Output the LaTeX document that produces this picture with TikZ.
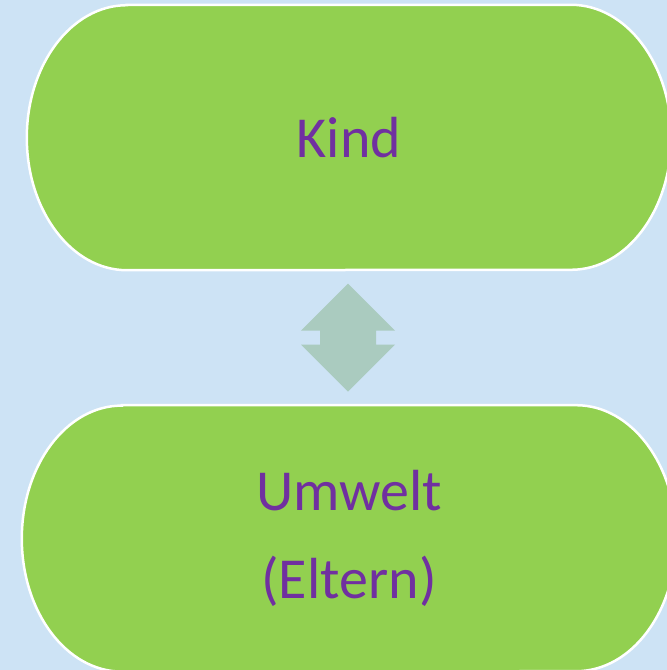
\documentclass[tikz,border=0pt]{standalone}
\usepackage{fontspec}
\newfontfamily\boxfont{Carlito}
\usepackage{tikz}
\usetikzlibrary{positioning, calc, backgrounds}

\definecolor{skyback}{RGB}{205,227,245}
\definecolor{leafgreen}{RGB}{146,208,80}
\definecolor{arrowsage}{RGB}{170,203,191}
\definecolor{textpurple}{RGB}{112,48,160}

\begin{document}
\begin{tikzpicture}[x=1pt, y=1pt,
  pill/.style={inner sep=0pt, text centered, align=center, text=textpurple,
    font=\boxfont\fontsize{58}{88}\selectfont},
  pillline/.style={fill=leafgreen, draw=white, line width=2.5pt},
  updown/.style={fill=arrowsage}]

\useasboundingbox (0,0) rectangle (667,670);

  % Nodes
  \node (kind) [pill, minimum width=644pt, minimum height=265pt] at (349,532.5) {Kind};
  \node (umwelt) [pill, below=135pt of kind, minimum width=654pt, minimum height=266pt] {Umwelt\\(Eltern)};

  % Arrow
  \coordinate (mid) at ($(kind.south)!0.5!(umwelt.north)$);
  \fill[updown] ($(mid)+(-1,54)$) -- ++(47,-47) -- ++(-19,0) -- ++(0,-14) -- ++(19,0)
    -- ++(-47,-47) -- ++(-47,47) -- ++(19,0) -- ++(0,14) -- ++(-19,0) -- cycle;

  % Shapes behind the text
  \begin{scope}[on background layer]
    \clip (0,0) rectangle (667,670);
    \fill[skyback] (0,0) rectangle (667,670);
    \draw[pillline] ([xshift=100pt]kind.north west) -- ([xshift=-100pt]kind.north east)
      arc[start angle=90, end angle=-90, x radius=100pt, y radius=132.5pt]
      -- ([xshift=100pt]kind.south west)
      arc[start angle=270, end angle=90, x radius=100pt, y radius=132.5pt] -- cycle;
    \draw[pillline] ([xshift=100pt]umwelt.north west) -- ([xshift=-100pt]umwelt.north east)
      arc[start angle=90, end angle=-90, x radius=100pt, y radius=133pt]
      -- ([xshift=100pt]umwelt.south west)
      arc[start angle=270, end angle=90, x radius=100pt, y radius=133pt] -- cycle;
  \end{scope}

\end{tikzpicture}
\end{document}
